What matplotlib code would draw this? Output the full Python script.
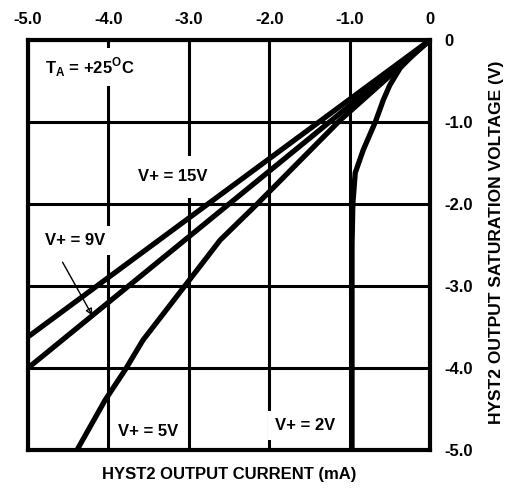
import numpy as np
import matplotlib
matplotlib.use("Agg")
import matplotlib.pyplot as plt

plt.rcParams['font.family'] = ['Liberation Sans', 'DejaVu Sans']
plt.rcParams['font.weight'] = 'bold'
plt.rcParams['mathtext.fontset'] = 'custom'
plt.rcParams['mathtext.rm'] = 'Liberation Sans:bold'
plt.rcParams['mathtext.bf'] = 'Liberation Sans:bold'

# output current (mA) vs saturation voltage (V)
i_15v = [0.0, -5.0]
v_15v = [0.0, -3.62]

i_9v = [0.0, -5.0]
v_9v = [0.0, -4.0]

i_5v = [0.0, -1.12, -2.15, -2.61, -3.05, -3.57, -3.79, -4.04, -4.39]
v_5v = [0.0, -0.98, -2.0, -2.44, -3.0, -3.66, -4.02, -4.39, -5.0]

i_2v = [0.0, -0.2, -0.37, -0.5, -0.58, -0.68, -0.83, -0.93, -0.96, -0.97, -0.97]
v_2v = [0.0, -0.17, -0.34, -0.55, -0.73, -1.0, -1.34, -1.62, -2.0, -2.5, -5.0]

x_ticks = [-5.0, -4.0, -3.0, -2.0, -1.0, 0.0]
x_labels = ['-5.0', '-4.0', '-3.0', '-2.0', '-1.0', '0']
y_ticks = [0.0, -1.0, -2.0, -3.0, -4.0, -5.0]
y_labels = ['0', '-1.0', '-2.0', '-3.0', '-4.0', '-5.0']

fs = 12

fig = plt.figure(figsize=(5.15, 4.91), dpi=100)
ax = fig.add_axes([28 / 515, 1 - 450 / 491, 402 / 515, 410 / 491])

ax.set_xlim(-5, 0)
ax.set_ylim(-5, 0)
ax.set_xticks(x_ticks)
ax.set_xticklabels(x_labels)
ax.set_yticks(y_ticks)
ax.set_yticklabels(y_labels)
ax.xaxis.tick_top()
ax.yaxis.tick_right()
ax.tick_params(length=0, labelsize=fs)
ax.tick_params(axis='x', pad=9)
ax.tick_params(axis='y', pad=10)
ax.grid(True, color='black', linewidth=2.2, zorder=1)
ax.set_axisbelow(True)
for s in ax.spines.values():
    s.set_linewidth(3)
    s.set_zorder(5)

# thick curves, rounded joins so the bends look smooth
lw = 3.8
for xs, ys in [(i_15v, v_15v), (i_9v, v_9v), (i_5v, v_5v), (i_2v, v_2v)]:
    ax.plot(xs, ys, color='black', linewidth=lw, solid_capstyle='butt',
            solid_joinstyle='round', zorder=4)

box = dict(facecolor='white', edgecolor='none', pad=5)
ax.text(-4.79, -0.33, r'T$_{\mathbf{A}}$ = +25$^{\mathbf{O}}$C', fontsize=fs, fontweight='bold',
        va='center', ha='left', bbox=box, zorder=3)
ax.text(-3.2, -1.67, 'V+ = 15V', fontsize=fs, fontweight='bold', va='center', ha='center',
        bbox=dict(facecolor='white', edgecolor='none', pad=10), zorder=3)
ax.text(-4.42, -2.44, 'V+ = 9V', fontsize=fs, fontweight='bold', va='center', ha='center',
        bbox=box, zorder=3)
ax.text(-3.51, -4.78, 'V+ = 5V', fontsize=fs, fontweight='bold', va='center', ha='center',
        zorder=3)
ax.text(-1.55, -4.7, 'V+ = 2V', fontsize=fs, fontweight='bold', va='center', ha='center',
        bbox=box, zorder=3)
ax.annotate('', xy=(-4.2, -3.36), xytext=(-4.57, -2.71),
            arrowprops=dict(arrowstyle='-|>', color='black', lw=1.0, mutation_scale=10,
                            fill=False, shrinkA=0, shrinkB=0), zorder=6)

fig.text(229 / 515, 1 - 475 / 491, 'HYST2 OUTPUT CURRENT (mA)', fontsize=fs,
         fontweight='bold', ha='center', va='center')
fig.text(497 / 515, 1 - 242 / 491, 'HYST2 OUTPUT SATURATION VOLTAGE (V)', fontsize=fs + 0.5,
         fontweight='bold', ha='center', va='center', rotation=90)

fig.savefig('out.png', dpi=100)
